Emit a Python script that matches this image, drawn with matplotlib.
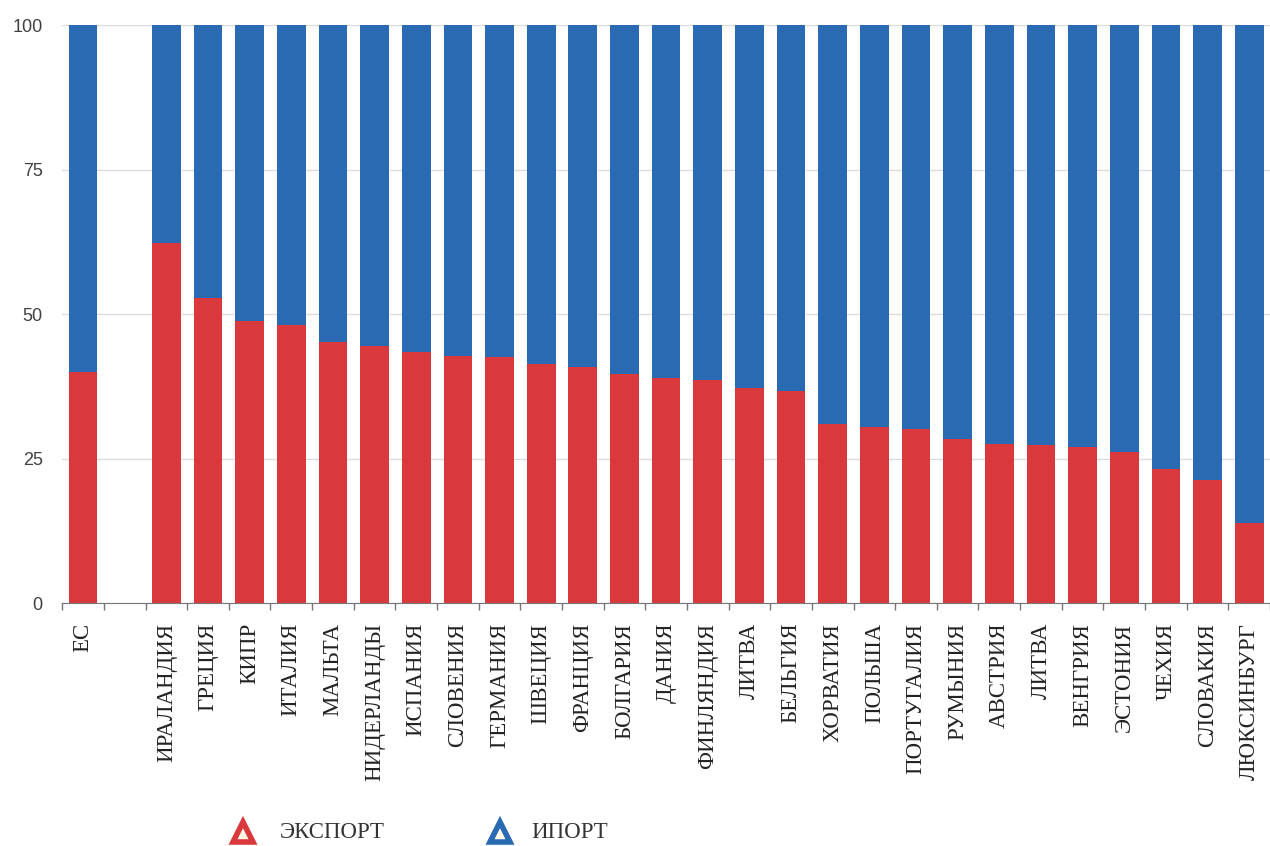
import matplotlib
matplotlib.use("Agg")
import matplotlib.pyplot as plt
from matplotlib.lines import Line2D

# country labels (second slot is an empty gap after the EU bar)
countries = ["ЕС", "", "ИРАЛАНДИЯ", "ГРЕЦИЯ", "КИПР", "ИТАЛИЯ", "МАЛЬТА",
             "НИДЕРЛАНДЫ", "ИСПАНИЯ", "СЛОВЕНИЯ", "ГЕРМАНИЯ", "ШВЕЦИЯ",
             "ФРАНЦИЯ", "БОЛГАРИЯ", "ДАНИЯ", "ФИНЛЯНДИЯ", "ЛИТВА", "БЕЛЬГИЯ",
             "ХОРВАТИЯ", "ПОЛЬША", "ПОРТУГАЛИЯ", "РУМЫНИЯ", "АВСТРИЯ", "ЛИТВА",
             "ВЕНГРИЯ", "ЭСТОНИЯ", "ЧЕХИЯ", "СЛОВАКИЯ", "ЛЮКСИНБУРГ"]
export_share = [40.0, None, 62.4, 52.8, 48.9, 48.1, 45.2, 44.5, 43.5, 42.8,
                42.6, 41.4, 40.9, 39.7, 39.0, 38.7, 37.3, 36.8, 31.0, 30.5,
                30.1, 28.5, 27.6, 27.4, 27.1, 26.1, 23.2, 21.4, 13.8]
legend_labels = ["ЭКСПОРТ", "ИПОРТ"]

RED = "#d9393d"
BLUE = "#2a6ab3"

fig = plt.figure(figsize=(12.7, 8.46), dpi=100)
ax = fig.add_axes([0.049, 0.287, 0.951, 0.683])

x = [i for i, v in enumerate(export_share) if v is not None]
exp = [v for v in export_share if v is not None]
imp = [100 - v for v in exp]
ax.bar(x, exp, width=0.69, color=RED, zorder=2)
ax.bar(x, imp, width=0.69, bottom=exp, color=BLUE, zorder=2)

ax.set_xlim(-0.5, len(countries) - 0.5)
ax.set_ylim(0, 100)
ax.set_yticks([0, 25, 50, 75, 100])
ax.yaxis.grid(True, color="#dcdcdc", linewidth=1, zorder=0)
ax.tick_params(axis="y", length=0, labelsize=13, labelcolor="#404040", pad=14)
for lab in ax.get_yticklabels():
    lab.set_family("Liberation Sans")

# category labels at bar centers, tick marks at boundaries
ax.set_xticks(range(len(countries)))
ax.set_xticklabels(countries, rotation=90, family="Liberation Serif",
                   fontsize=16.5, color="#222222")
ax.tick_params(axis="x", which="major", length=0, pad=14)
ax.set_xticks([i - 0.5 for i in range(len(countries) + 1)], minor=True)
ax.tick_params(axis="x", which="minor", length=5, color="#777777", width=1)

for side in ["top", "right", "left"]:
    ax.spines[side].set_visible(False)
ax.spines["bottom"].set_color("#777777")

# legend drawn under the labels
for xm, col, txt, xt in [(0.191, RED, legend_labels[0], 0.220),
                         (0.394, BLUE, legend_labels[1], 0.418)]:
    fig.lines.append(Line2D([xm], [0.016], transform=fig.transFigure,
                            marker="^", markersize=15, markerfacecolor="#fff6e8",
                            markeredgecolor=col, markeredgewidth=4, linestyle=""))
    fig.text(xt, 0.016, txt, family="Liberation Serif", fontsize=16.5,
             color="#333333", va="center")

fig.savefig("out.png", dpi=100)
